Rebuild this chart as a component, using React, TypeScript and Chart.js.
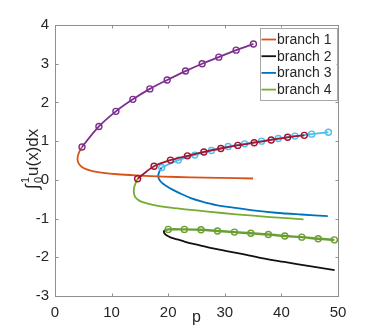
import React, { useEffect, useRef } from "react";
import { Chart, registerables } from "chart.js";

Chart.register(...registerables);

const FONT = '"Liberation Sans", Arial, Helvetica, sans-serif';
const AXIS_COLOR = "#8f8f8f";
const TEXT_COLOR = "#262626";

// ---- data ----
const xTicks = [0, 10, 20, 30, 40, 50];
const yTicks = [-3, -2, -1, 0, 1, 2, 3, 4];
const legendLabels = ["branch 1", "branch 2", "branch 3", "branch 4"];

// branch 1 (orange)
const b1P = [4.77, 4.35, 4.05, 3.98, 4.2, 4.7, 5.6, 6.8, 8.5, 11, 14.5, 19, 24, 29, 35];
const b1V = [0.85, 0.74, 0.62, 0.52, 0.42, 0.34, 0.27, 0.22, 0.18, 0.145, 0.115, 0.085, 0.065, 0.05, 0.035];

// branch 2 (black)
const b2P = [19.45, 19.25, 19.3, 19.7, 20.5, 21.7, 23, 25.6, 28.6, 32.5, 36.5, 40.5, 45, 49.4];
const b2V = [-1.3, -1.33, -1.37, -1.43, -1.49, -1.54, -1.6, -1.69, -1.79, -1.9, -2.02, -2.12, -2.23, -2.33];

// branch 3 (blue)
const b3P = [18.85, 18.45, 18.25, 18.4, 18.9, 19.6, 20.6, 22.1, 24, 26, 28.5, 31.5, 35, 39, 43.5, 48.2];
const b3V = [0.32, 0.22, 0.11, 0.01, -0.08, -0.15, -0.24, -0.35, -0.47, -0.56, -0.65, -0.72, -0.79, -0.85, -0.895, -0.935];

// branch 4 (green)
const b4P = [14.6, 14.2, 13.95, 13.95, 14.2, 14.8, 15.8, 17.5, 20, 23, 27, 32, 38, 43.9];
const b4V = [0.03, -0.1, -0.22, -0.35, -0.45, -0.53, -0.59, -0.65, -0.71, -0.76, -0.82, -0.89, -0.96, -1.02];

// marker curves
const purpleP = [4.77, 7.76, 10.76, 13.76, 16.76, 19.82, 23.06, 26.0, 28.94, 32.0, 35.06];
const purpleV = [0.85, 1.38, 1.77, 2.08, 2.35, 2.58, 2.81, 3.0, 3.17, 3.35, 3.51];

const redP = [14.6, 17.5, 20.4, 23.4, 26.3, 29.3, 32.3, 35.2, 38.2, 41.1, 44.05];
const redV = [0.03, 0.35, 0.51, 0.62, 0.72, 0.81, 0.89, 0.96, 1.03, 1.1, 1.15];

const cyanP = [18.85, 21.8, 24.7, 27.65, 30.6, 33.5, 36.5, 39.45, 42.4, 45.35, 48.3];
const cyanV = [0.32, 0.51, 0.64, 0.76, 0.86, 0.93, 1.0, 1.07, 1.13, 1.18, 1.23];

const greenMP = [19.4, 20.0, 22.85, 25.8, 28.7, 31.7, 34.6, 37.7, 40.6, 43.6, 46.5, 49.35];
const greenMV = [-1.31, -1.28, -1.28, -1.29, -1.32, -1.35, -1.38, -1.41, -1.45, -1.48, -1.52, -1.55];
const greenMMarked = [false, true, true, true, true, true, true, true, true, true, true, true];

const branchColors = ["#D95319", "#111111", "#0072BD", "#77AC30"];

function pts(xs: number[], ys: number[]) {
  return xs.map((x, i) => ({ x, y: ys[i] }));
}

function lineDs(label: string, xs: number[], ys: number[], color: string, width = 1.8) {
  return {
    label,
    data: pts(xs, ys),
    showLine: true,
    borderColor: color,
    backgroundColor: color,
    borderWidth: width,
    pointRadius: 0,
    pointHoverRadius: 0,
    tension: 0.35,
  };
}

function markerDs(label: string, xs: number[], ys: number[], color: string, marked?: boolean[], width = 1.8) {
  return {
    label,
    data: pts(xs, ys),
    showLine: true,
    borderColor: color,
    backgroundColor: "rgba(0,0,0,0)",
    borderWidth: width,
    pointRadius: marked ? marked.map((m) => (m ? 3 : 0)) : 3,
    pointBorderWidth: 1.4,
    pointBorderColor: color,
    pointBackgroundColor: "rgba(255,255,255,0)",
    pointHoverRadius: 0,
    tension: 0.35,
  };
}

const framePlugin = {
  id: "frame",
  afterDraw(chart: any) {
    const { ctx, chartArea: a, scales } = chart;
    const xs = scales.x;
    const ys = scales.y;
    ctx.save();
    // box
    ctx.strokeStyle = AXIS_COLOR;
    ctx.lineWidth = 1;
    const L = Math.round(a.left) + 0.5;
    const R = Math.round(a.right) + 0.5;
    const T = Math.round(a.top) + 0.5;
    const B = Math.round(a.bottom) + 0.5;
    ctx.strokeRect(L, T, R - L, B - T);
    // inward ticks
    const tl = 3;
    ctx.beginPath();
    xTicks.forEach((v) => {
      const px = Math.round(xs.getPixelForValue(v)) + 0.5;
      ctx.moveTo(px, B);
      ctx.lineTo(px, B - tl);
      ctx.moveTo(px, T);
      ctx.lineTo(px, T + tl);
    });
    yTicks.forEach((v) => {
      const py = Math.round(ys.getPixelForValue(v)) + 0.5;
      ctx.moveTo(L, py);
      ctx.lineTo(L + tl, py);
      ctx.moveTo(R, py);
      ctx.lineTo(R - tl, py);
    });
    ctx.stroke();

    // legend
    const lw = 77;
    const lh = 72;
    const lx = R - 2 - lw;
    const ly = T + 2;
    ctx.fillStyle = "#ffffff";
    ctx.fillRect(lx, ly, lw, lh);
    ctx.strokeStyle = "#a8a8a8";
    ctx.strokeRect(Math.round(lx) + 0.5, Math.round(ly) + 0.5, lw, lh);
    ctx.font = `14px ${FONT}`;
    ctx.textBaseline = "middle";
    ctx.textAlign = "left";
    legendLabels.forEach((lab, i) => {
      const cy = ly + 12 + i * 16.7;
      ctx.strokeStyle = branchColors[i];
      ctx.lineWidth = 1.8;
      ctx.beginPath();
      ctx.moveTo(lx + 2, cy);
      ctx.lineTo(lx + 16.5, cy);
      ctx.stroke();
      ctx.fillStyle = TEXT_COLOR;
      ctx.fillText(lab, lx + 17.5, cy + 0.5);
    });

    // x label
    ctx.fillStyle = TEXT_COLOR;
    ctx.font = `16px ${FONT}`;
    ctx.textAlign = "center";
    ctx.textBaseline = "alphabetic";
    ctx.fillText("p", (a.left + a.right) / 2, a.bottom + 26);

    // y label: ∫_0^1 u(x)dx rotated
    ctx.save();
    ctx.translate(37.5, a.top + 164);
    ctx.rotate(-Math.PI / 2);
    ctx.textAlign = "left";
    ctx.textBaseline = "alphabetic";
    ctx.font = `18px ${FONT}`;
    ctx.fillText("\u222B", 0, 0);
    const iw = ctx.measureText("\u222B").width;
    ctx.font = `11px ${FONT}`;
    ctx.fillText("1", iw + 1, -9);
    ctx.fillText("0", iw + 1, 4);
    const sw = ctx.measureText("0").width;
    ctx.font = `17px ${FONT}`;
    ctx.fillText("u(x)dx", iw + sw + 2, 0);
    ctx.restore();

    ctx.restore();
  },
};

export default function App() {
  const ref = useRef<HTMLCanvasElement>(null);
  useEffect(() => {
    if (!ref.current) return;
    const chart = new Chart(ref.current, {
      type: "scatter",
      data: {
        datasets: [
          markerDs("red", redP, redV, "#A2142F"),
          markerDs("cyan", cyanP, cyanV, "#4DBEEE"),
          markerDs("purple", purpleP, purpleV, "#7E2F8E"),
          markerDs("green markers", greenMP, greenMV, "#6A9E33", greenMMarked, 2.4),
          lineDs(legendLabels[0], b1P, b1V, branchColors[0]),
          lineDs(legendLabels[1], b2P, b2V, branchColors[1]),
          lineDs(legendLabels[2], b3P, b3V, branchColors[2]),
          lineDs(legendLabels[3], b4P, b4V, branchColors[3]),
        ] as any,
      },
      options: {
        animation: false,
        responsive: false,
        maintainAspectRatio: false,
        layout: { padding: { top: 25, right: 36, left: 0, bottom: 0 } },
        plugins: {
          legend: { display: false },
          tooltip: { enabled: false },
          title: { display: false },
        },
        scales: {
          x: {
            type: "linear",
            min: 0,
            max: 50,
            grid: { display: false, drawTicks: false },
            border: { display: false },
            afterFit: (s: any) => {
              s.height = 37;
            },
            afterBuildTicks: (s: any) => {
              s.ticks = xTicks.map((v) => ({ value: v }));
            },
            ticks: {
              padding: 8,
              color: TEXT_COLOR,
              font: { family: FONT, size: 15 },
              maxRotation: 0,
              autoSkip: false,
            },
          },
          y: {
            type: "linear",
            min: -3,
            max: 4,
            grid: { display: false, drawTicks: false },
            border: { display: false },
            afterFit: (s: any) => {
              s.width = 55;
            },
            afterBuildTicks: (s: any) => {
              s.ticks = yTicks.map((v) => ({ value: v }));
            },
            ticks: {
              padding: 6,
              color: TEXT_COLOR,
              font: { family: FONT, size: 15 },
              autoSkip: false,
            },
          },
        },
      },
      plugins: [framePlugin],
    } as any);
    return () => chart.destroy();
  }, []);
  return (
    <div style={{ position: "fixed", left: 0, top: 0, width: 374, height: 333, background: "#fff" }}>
      <canvas ref={ref} width={374} height={333} style={{ width: 374, height: 333, display: "block" }} />
    </div>
  );
}
